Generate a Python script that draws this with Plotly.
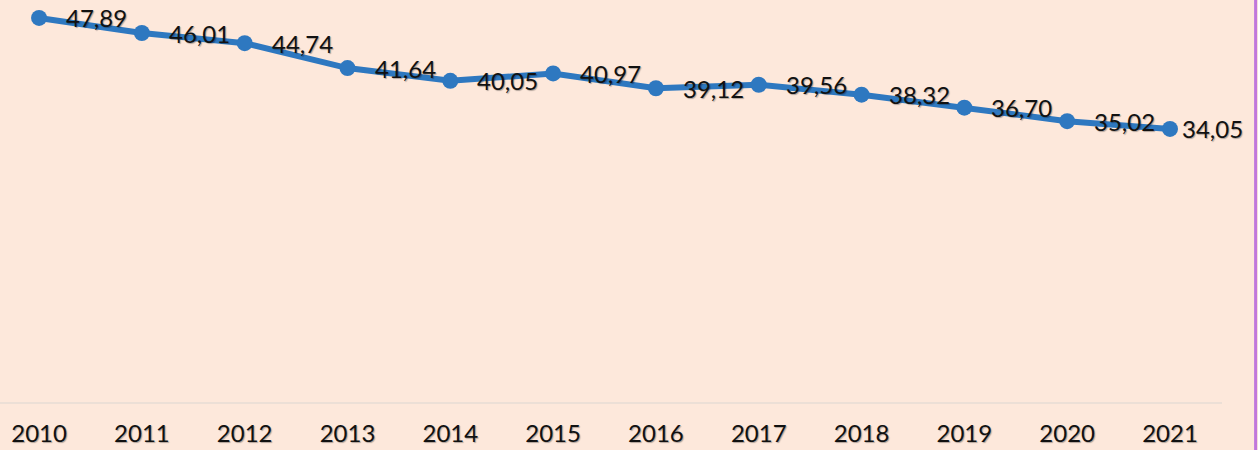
import plotly.graph_objects as go

years = [2010, 2011, 2012, 2013, 2014, 2015, 2016, 2017, 2018, 2019, 2020, 2021]
values = [47.89, 46.01, 44.74, 41.64, 40.05, 40.97, 39.12, 39.56, 38.32, 36.70, 35.02, 34.05]
labels = [f"{v:.2f}".replace(".", ",") for v in values]
label_shift = [25] * 11 + [10]

BG = "#FDE8DB"
LINE = "#2E78C0"
FONT = "Lato, Carlito, Calibri, sans-serif"

fig = go.Figure()
fig.add_trace(go.Scatter(
    x=years, y=values, mode="lines+markers",
    line=dict(color=LINE, width=6),
    marker=dict(color=LINE, size=16),
    hoverinfo="skip", showlegend=False,
))

for x, y, t, s in zip(years, values, labels, label_shift):
    fig.add_annotation(
        x=x, y=y, text=t, xref="x", yref="y", showarrow=False,
        xanchor="left", yanchor="middle", xshift=s,
        font=dict(family=FONT, size=24, color="#111111",
                  shadow="1px 1px 1px rgba(0,0,0,0.3)"),
    )

fig.add_shape(type="line", xref="paper", yref="paper",
              x0=1.0275, x1=1.0275, y0=-0.2, y1=1.05,
              line=dict(color="#C078DC", width=3))

fig.update_layout(
    width=1258, height=450,
    margin=dict(l=0, r=36, t=1, b=48),
    paper_bgcolor=BG, plot_bgcolor=BG,
    font=dict(family=FONT, size=24, color="#111111"),
    xaxis=dict(
        range=[2009.62, 2021.506], tickmode="array", tickvals=years,
        ticktext=[str(y) for y in years], showgrid=False, zeroline=False,
        showline=True, linecolor="#ECDFD6", linewidth=2, ticks="",
        ticklabelstandoff=9,
        tickfont=dict(family=FONT, size=24, color="#111111",
                      shadow="1px 1px 1px rgba(0,0,0,0.3)"),
    ),
    yaxis=dict(range=[0, 50], visible=False, showgrid=False, zeroline=False),
)

fig.write_html(
    "out.html",
    config={"displayModeBar": False},
    post_script="document.body.style.margin='0';document.body.style.background='" + BG + "';",
)
